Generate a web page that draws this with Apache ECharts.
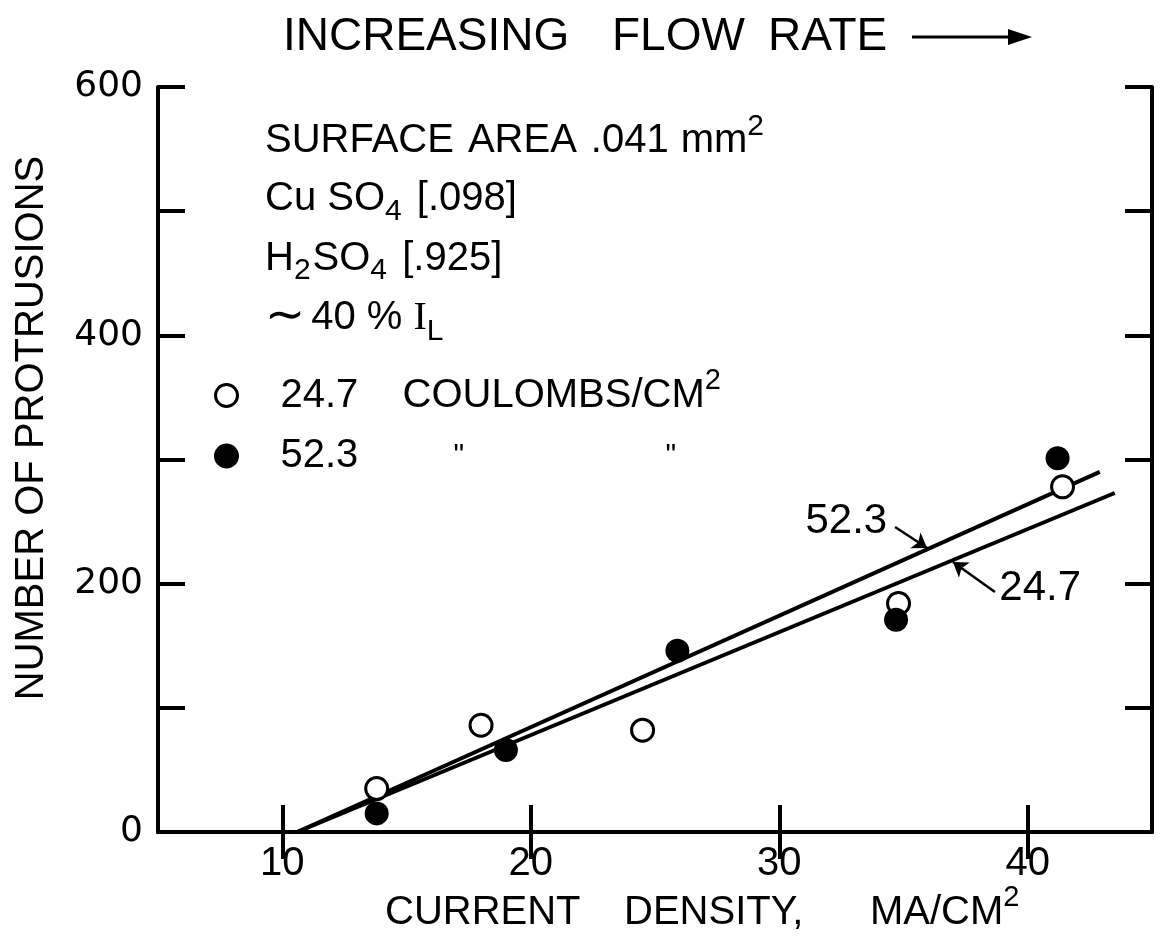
<!DOCTYPE html>
<html>
<head>
<meta charset="utf-8">
<script src="https://cdn.jsdelivr.net/npm/echarts@6/dist/echarts.min.js"></script>
<style>
  html, body { margin: 0; padding: 0; background: #fff; }
  #chart { width: 1163px; height: 939px; }
</style>
</head>
<body>
<div id="chart"></div>
<script>
// Protrusion counts against current density (mA/cm²)
// 24.7 C/cm² (open circles)
const lowChargeX = [13.8, 18.0, 24.5, 34.8, 41.4];
const lowChargeY = [35, 86, 82, 184, 278];
// 52.3 C/cm² (filled circles)
const highChargeX = [13.8, 19.0, 25.9, 34.7, 41.2];
const highChargeY = [15, 66, 146, 171, 301];

// Fitted straight lines (end points)
const fitLowX = [10.6, 43.5];
const fitLowY = [0, 273];
const fitHighX = [10.6, 42.9];
const fitHighY = [0, 290];

// Axis ranges and ticks
const xRange = [5, 45];
const yRange = [0, 600];
const xTicks = [10, 20, 30, 40];
const yLabelValues = [0, 200, 400, 600];

// Callout text anchors and arrows for the fitted lines (data units)
const highCalloutText = [32.7, 250];
const highArrowFrom = [34.66, 245.6];
const highArrowTo = [35.95, 228.7];
const lowCalloutText = [40.5, 196.5];
const lowArrowFrom = [38.68, 193.3];
const lowArrowTo = [36.99, 217.4];

const zipXY = (xs, ys) => xs.map((x, i) => [x, ys[i]]);

const FONT = '"Liberation Sans", Arial, sans-serif';
const NUMFONT = '"DejaVu Sans", sans-serif';
const measure = document.createElement('canvas').getContext('2d');

// Lay out a run of text pieces (with sub/superscripts) left to right
function textRun(x, y, parts) {
  const out = [];
  let cx = x;
  parts.forEach(p => {
    const font = p.size + 'px ' + (p.family || FONT);
    measure.font = font;
    out.push({
      type: 'text', x: cx, y: y + (p.dy || 0), silent: true,
      style: { text: p.t, font: font, fill: '#000', align: 'left', verticalAlign: 'middle' }
    });
    cx += measure.measureText(p.t).width + (p.gap || 0);
  });
  return out;
}

const notes = [].concat(
  textRun(265, 141, [
    { t: 'SURFACE', size: 40, gap: 14 },
    { t: 'AREA', size: 40, gap: 14 },
    { t: '.041', size: 40, gap: 12 },
    { t: 'mm', size: 40 },
    { t: '2', size: 30, dy: -14 }
  ]),
  textRun(265, 199, [
    { t: 'Cu SO', size: 40 },
    { t: '4', size: 30, dy: 13, gap: 4 },
    { t: ' [.098]', size: 40 }
  ]),
  textRun(265, 259, [
    { t: 'H', size: 40 },
    { t: '2', size: 30, dy: 12, gap: 2 },
    { t: 'SO', size: 40 },
    { t: '4', size: 30, dy: 12, gap: 4 },
    { t: ' [.925]', size: 40 }
  ]),
  textRun(265, 318, [
    { t: '\u223C', size: 48, family: '"DejaVu Sans", sans-serif', gap: 6 },
    { t: '40 % ', size: 40 },
    { t: 'I', size: 40, family: '"Liberation Serif", serif' },
    { t: 'L', size: 30, dy: 14 }
  ]),
  // x-axis title
  textRun(385, 913, [{ t: 'CURRENT', size: 40 }]),
  textRun(624, 913, [{ t: 'DENSITY,', size: 40 }]),
  textRun(870, 913, [
    { t: 'MA/CM', size: 40 },
    { t: '2', size: 29, dy: -15 }
  ]),
  // top heading
  textRun(283, 37, [{ t: 'INCREASING', size: 46 }]),
  textRun(612, 37, [{ t: 'FLOW', size: 46 }]),
  textRun(768, 37, [{ t: 'RATE', size: 46 }])
);

const chart = echarts.init(document.getElementById('chart'), null, { renderer: 'canvas' });

const axisLine = { show: true, lineStyle: { color: '#000', width: 4 } };
const tickStyle = { show: true, inside: true, length: 27, lineStyle: { color: '#000', width: 4 } };

chart.setOption({
  backgroundColor: '#fff',
  animation: false,
  textStyle: { fontFamily: FONT, color: '#000' },
  grid: { left: 158, right: 11, top: 87, bottom: 107 },
  xAxis: [
    {
      type: 'value', position: 'bottom', min: xRange[0], max: xRange[1],
      axisLine: axisLine,
      axisTick: Object.assign({ customValues: xTicks }, tickStyle),
      axisLabel: { customValues: xTicks, margin: 12, fontSize: 40, color: '#000', fontFamily: FONT },
      splitLine: { show: false }
    },
    {
      type: 'value', position: 'top', min: xRange[0], max: xRange[1],
      axisLine: axisLine,
      axisTick: Object.assign({ customValues: xTicks }, tickStyle),
      axisLabel: { show: false },
      splitLine: { show: false }
    }
  ],
  yAxis: [
    {
      type: 'value', position: 'left', min: yRange[0], max: yRange[1], interval: 100,
      axisLine: axisLine,
      axisTick: tickStyle,
      axisLabel: { customValues: yLabelValues, margin: 15, fontSize: 36, color: '#000', fontFamily: NUMFONT },
      splitLine: { show: false }
    },
    {
      type: 'value', position: 'right', min: yRange[0], max: yRange[1], interval: 100,
      axisLine: axisLine,
      axisTick: tickStyle,
      axisLabel: { show: false },
      splitLine: { show: false }
    }
  ],
  legend: {
    data: ['24.7', '52.3'],
    orient: 'vertical',
    left: 214, top: 366,
    padding: 0,
    itemGap: 11,
    itemWidth: 98, itemHeight: 22,
    selectedMode: false,
    itemStyle: { borderWidth: 3 },
    formatter: name => name === '24.7'
      ? '{a|24.7}{b|COULOMBS/CM}{s|2}'
      : '{c|52.3}{q|"}{q2|"}',
    textStyle: {
      color: '#000', fontFamily: FONT, fontSize: 40,
      rich: {
        a: { fontSize: 40, width: 122, lineHeight: 40 },
        b: { fontSize: 40, lineHeight: 40 },
        s: { fontSize: 29, lineHeight: 40, padding: [0, 0, 30, 0] },
        c: { fontSize: 40, width: 173, lineHeight: 40 },
        q: { fontSize: 30, width: 212, lineHeight: 40 },
        q2: { fontSize: 30, lineHeight: 40 }
      }
    }
  },
  graphic: notes.concat([
    {
      type: 'text', x: 32, y: 428, rotation: Math.PI / 2, silent: true,
      style: { text: 'NUMBER OF PROTRUSIONS', font: '40px ' + FONT, fill: '#000', align: 'center', verticalAlign: 'middle' }
    },
    {
      type: 'line', silent: true,
      shape: { x1: 912, y1: 37, x2: 1014, y2: 37 },
      style: { stroke: '#000', lineWidth: 3 }
    },
    {
      type: 'polygon', silent: true,
      shape: { points: [[1032, 37], [1008, 29], [1008, 45]] },
      style: { fill: '#000' }
    }
  ]),
  series: [
    {
      name: 'fit 52.3', type: 'line', data: zipXY(fitHighX, fitHighY),
      symbol: 'none', silent: true, z: 2,
      lineStyle: { color: '#000', width: 4 },
      markLine: {
        silent: true, symbol: ['none', 'arrow'], symbolSize: 14,
        lineStyle: { color: '#000', width: 2.5, type: 'solid' },
        label: { show: false },
        data: [[{ coord: highArrowFrom }, { coord: highArrowTo }]]
      },
      markPoint: {
        silent: true, symbol: 'circle', symbolSize: 1,
        itemStyle: { color: 'rgba(0,0,0,0)' },
        label: { show: true, position: 'inside', formatter: '52.3', color: '#000', fontSize: 42, fontFamily: FONT },
        data: [{ coord: highCalloutText }]
      }
    },
    {
      name: 'fit 24.7', type: 'line', data: zipXY(fitLowX, fitLowY),
      symbol: 'none', silent: true, z: 2,
      lineStyle: { color: '#000', width: 4 },
      markLine: {
        silent: true, symbol: ['none', 'arrow'], symbolSize: 14,
        lineStyle: { color: '#000', width: 2.5, type: 'solid' },
        label: { show: false },
        data: [[{ coord: lowArrowFrom }, { coord: lowArrowTo }]]
      },
      markPoint: {
        silent: true, symbol: 'circle', symbolSize: 1,
        itemStyle: { color: 'rgba(0,0,0,0)' },
        label: { show: true, position: 'inside', formatter: '24.7', color: '#000', fontSize: 42, fontFamily: FONT },
        data: [{ coord: lowCalloutText }]
      }
    },
    {
      name: '24.7', type: 'scatter', data: zipXY(lowChargeX, lowChargeY),
      symbol: 'circle', symbolSize: 22, z: 3,
      itemStyle: { color: '#fff', borderColor: '#000', borderWidth: 3, opacity: 1 }
    },
    {
      name: '52.3', type: 'scatter', data: zipXY(highChargeX, highChargeY),
      symbol: 'circle', symbolSize: 24, z: 3,
      itemStyle: { color: '#000', borderColor: '#000', borderWidth: 0, opacity: 1 }
    }
  ]
});
</script>
</body>
</html>
